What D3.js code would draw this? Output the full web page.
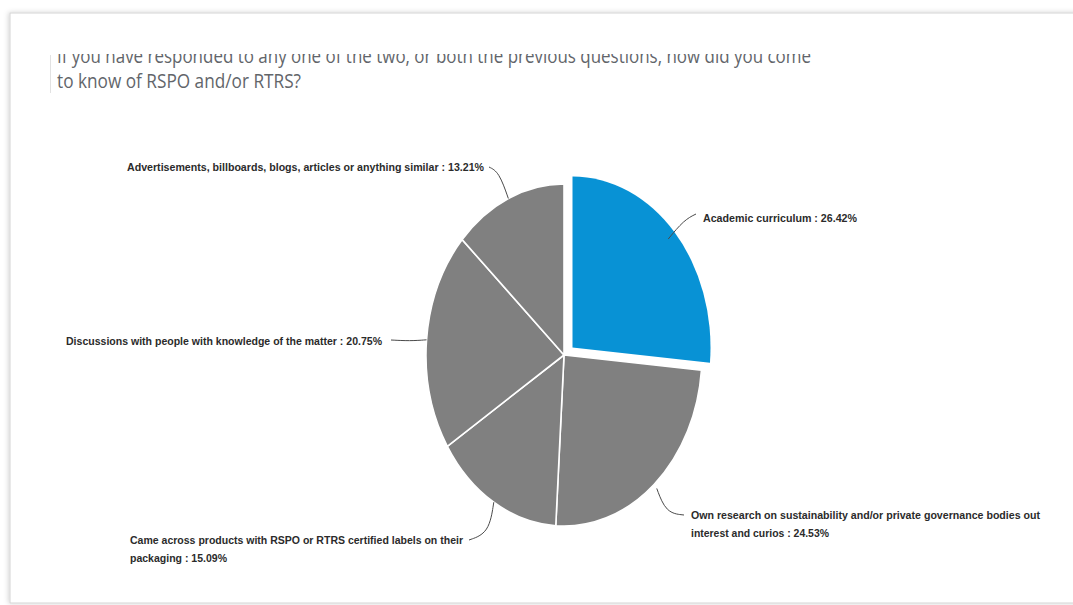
<!DOCTYPE html>
<html>
<head>
<meta charset="utf-8">
<script src="https://cdn.jsdelivr.net/npm/d3@7"></script>
<style>
  html, body { margin: 0; padding: 0; background: #ffffff; }
  svg { display: block; }
</style>
</head>
<body>
<svg id="chart" width="1073" height="605"></svg>
<script>
// ---- data ----
const categories = [
  "Academic curriculum",
  "Own research on sustainability and/or private governance bodies out of interest and curios",
  "Came across products with RSPO or RTRS certified labels on their packaging",
  "Discussions with people with knowledge of the matter",
  "Advertisements, billboards, blogs, articles or anything similar"
];
const values = [26.42, 24.53, 15.09, 20.75, 13.21];
const titleLines = [
  "If you have responded to any one of the two, or both the previous questions, how did you come",
  "to know of RSPO and/or RTRS?"
];
// word index after which each label wraps (null = single line)
const wrapAfter = [null, 10, 11, null, null];

// ---- layout ----
const W = 1073, H = 605;
const cx = 564, cy = 355, rx = 138, ry = 171;
const explode = [8.5, -7.5];
const colors = ["#0892d5", "#808080", "#808080", "#808080", "#808080"];
const labelLayout = [
  { x: 703, y: 222, widths: [154], k: 0.94, mid: [684, 220], end: [696, 214] },
  { x: 691, y: 519, widths: [362, 138], k: 1.03, mid: [666, 513], end: [684, 515] },
  { x: 130, y: 544, widths: [333, 97], k: 1.0, mid: [489, 533], end: [469, 540] },
  { x: 66, y: 345, widths: [316], k: 1.0, mid: [410, 341], end: [391, 340] },
  { x: 127, y: 171, widths: [357], k: 1.0, mid: [499, 172], end: [489, 167] }
];

const svg = d3.select("#chart");

// frame / card
const defs = svg.append("defs");
const f = defs.append("filter").attr("id", "shadow").attr("x", "-5%").attr("y", "-5%").attr("width", "110%").attr("height", "110%");
f.append("feGaussianBlur").attr("in", "SourceAlpha").attr("stdDeviation", 2.5);
f.append("feOffset").attr("dx", -1).attr("dy", 0).attr("result", "b");
f.append("feFlood").attr("flood-color", "#000").attr("flood-opacity", 0.18);
f.append("feComposite").attr("in2", "b").attr("operator", "in");
const m = f.append("feMerge");
m.append("feMergeNode");
m.append("feMergeNode").attr("in", "SourceGraphic");

svg.append("rect").attr("width", W).attr("height", H).attr("fill", "#ffffff");
svg.append("rect")
  .attr("x", 10).attr("y", 13).attr("width", W + 20).attr("height", 590)
  .attr("fill", "#ffffff").attr("stroke", "#d4d4d4").attr("stroke-width", 1)
  .attr("filter", "url(#shadow)");

// title
defs.append("clipPath").attr("id", "titleClip")
  .append("rect").attr("x", 0).attr("y", 54).attr("width", W).attr("height", 60);
defs.append("clipPath").attr("id", "cardClip")
  .append("rect").attr("x", 0).attr("y", 0).attr("width", 1041).attr("height", H);

svg.append("line").attr("x1", 50.5).attr("x2", 50.5).attr("y1", 55).attr("y2", 93)
  .attr("stroke", "#e2e2e2").attr("stroke-width", 1);

const titleWidths = [754, 244];
svg.append("g").attr("clip-path", "url(#titleClip)")
  .selectAll("text").data(titleLines).join("text")
  .attr("x", 57).attr("y", (d, i) => 63 + i * 25)
  .attr("textLength", (d, i) => titleWidths[i])
  .attr("lengthAdjust", "spacingAndGlyphs")
  .attr("font-family", "'Open Sans', 'Noto Sans', sans-serif")
  .attr("font-size", 19.5)
  .attr("fill", "#62656a")
  .text(d => d);

// pie
const pie = d3.pie().value(d => d).sort(null).startAngle(0).endAngle(2 * Math.PI);
const arcs = pie(values);
const arc = d3.arc().innerRadius(0).outerRadius(rx);
const sy = ry / rx;

const pg = svg.append("g");
arcs.forEach((a, i) => {
  const off = i === 0 ? explode : [0, 0];
  pg.append("path")
    .attr("transform", `translate(${cx + off[0]},${cy + off[1]}) scale(1,${sy})`)
    .attr("d", arc(a))
    .attr("fill", colors[i])
    .attr("stroke", i === 0 ? "none" : "#ffffff")
    .attr("stroke-width", 1.6)
    .attr("vector-effect", "non-scaling-stroke")
    .attr("stroke-linejoin", "round");
});

// labels + leaders
const leader = d3.line().curve(d3.curveBasis);
const lg = svg.append("g").attr("clip-path", "url(#cardClip)");
arcs.forEach((a, i) => {
  const L = labelLayout[i];
  const off = i === 0 ? explode : [0, 0];
  const mid = (a.startAngle + a.endAngle) / 2;
  const ax = cx + off[0] + L.k * rx * Math.sin(mid);
  const ay = cy + off[1] - L.k * ry * Math.cos(mid);
  lg.append("path")
    .attr("d", leader([[ax, ay], L.mid, L.end]))
    .attr("fill", "none").attr("stroke", "#4a4a4a").attr("stroke-width", 1);

  const full = categories[i] + " : " + values[i].toFixed(2) + "%";
  const words = full.split(" ");
  const lines = wrapAfter[i] == null ? [full]
    : [words.slice(0, wrapAfter[i]).join(" "), words.slice(wrapAfter[i]).join(" ")];
  lines.forEach((t, j) => {
    lg.append("text")
      .attr("x", L.x).attr("y", L.y + j * 18)
      .attr("textLength", L.widths[j])
      .attr("lengthAdjust", "spacingAndGlyphs")
      .attr("font-family", "'Liberation Sans', Arial, sans-serif")
      .attr("font-weight", "bold")
      .attr("font-size", 10.5)
      .attr("fill", "#2b2b2b")
      .text(t);
  });
});
</script>
</body>
</html>
